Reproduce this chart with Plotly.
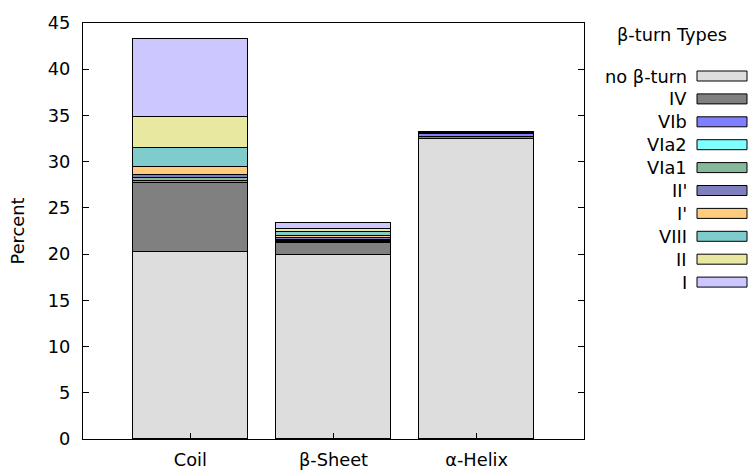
import plotly.graph_objects as go

categories = ["Coil", "β-Sheet", "α-Helix"]
turn_types = ["no β-turn", "IV", "VIb", "VIa2", "VIa1", "II'", "I'", "VIII", "II", "I"]
colors = ["#dddddd", "#808080", "#7f7fff", "#7fffff", "#88b89a", "#7f7fbf",
          "#ffcc7f", "#7fcccc", "#e8e8a0", "#ccc8ff"]

values = {
    "no β-turn": [20.26, 19.9, 32.5],
    "IV":        [7.40, 1.30, 0.20],
    "VIb":       [0.20, 0.15, 0.25],
    "VIa2":      [0.10, 0.05, 0.03],
    "VIa1":      [0.30, 0.10, 0.03],
    "II'":       [0.35, 0.20, 0.03],
    "I'":        [0.79, 0.30, 0.03],
    "VIII":      [2.12, 0.40, 0.03],
    "II":        [3.29, 0.35, 0.03],
    "I":         [8.44, 0.60, 0.08],
}
y_ticks = [0, 5, 10, 15, 20, 25, 30, 35, 40, 45]

FONT = "DejaVu Sans"
FS = 17.8
fig = go.Figure()
for name, col in zip(turn_types, colors):
    fig.add_trace(go.Bar(
        x=list(range(len(categories))), y=values[name], name=name,
        width=0.8, marker=dict(color=col, line=dict(color="black", width=1)),
        showlegend=False,
    ))

# manual legend (text left of swatch, gnuplot style)
W, H = 749, 471
ml, mr, mt, mb = 83, 165, 23, 32
pw, ph = W - ml - mr, H - mt - mb

def px(xp):
    return (xp - ml) / pw

def py(yp):
    return 1 - (yp - mt) / ph

shapes = []
annotations = [dict(x=px(672), y=py(34), xref="paper", yref="paper", text="β-turn Types",
                    showarrow=False, xanchor="center", yanchor="middle",
                    font=dict(family=FONT, size=FS, color="black"))]
for i, (name, col) in enumerate(zip(turn_types, colors)):
    yc = 76 + i * 22.9
    shapes.append(dict(type="rect", xref="paper", yref="paper",
                       x0=px(697), x1=px(747), y0=py(yc - 5), y1=py(yc + 5),
                       fillcolor=col, line=dict(color="black", width=1)))
    annotations.append(dict(x=px(689), y=py(yc), xref="paper", yref="paper", text=name,
                            showarrow=False, xanchor="right", yanchor="middle",
                            font=dict(family=FONT, size=FS, color="black")))

fig.update_layout(
    width=W, height=H, barmode="stack", bargap=0,
    margin=dict(l=ml, r=mr, t=mt, b=mb, pad=0, autoexpand=False),
    plot_bgcolor="white", paper_bgcolor="white",
    font=dict(family=FONT, size=FS, color="black"),
    shapes=shapes, annotations=annotations,
    xaxis=dict(range=[-0.75, 2.75], tickvals=list(range(len(categories))), ticktext=categories,
               showline=True, linecolor="black", linewidth=1, mirror=True, automargin=False,
               ticks="inside", ticklen=6, tickcolor="black", showgrid=False, zeroline=False,
               ticklabelstandoff=5),
    yaxis=dict(range=[0, 45], tickvals=y_ticks, showline=True, linecolor="black", linewidth=1,
               mirror="ticks", ticks="inside", ticklen=6, tickcolor="black", showgrid=False,
               zeroline=False, ticklabelstandoff=8, automargin=False,
               title=dict(text="Percent", standoff=18, font=dict(family=FONT, size=FS))),
)
fig.write_html("out.html")
